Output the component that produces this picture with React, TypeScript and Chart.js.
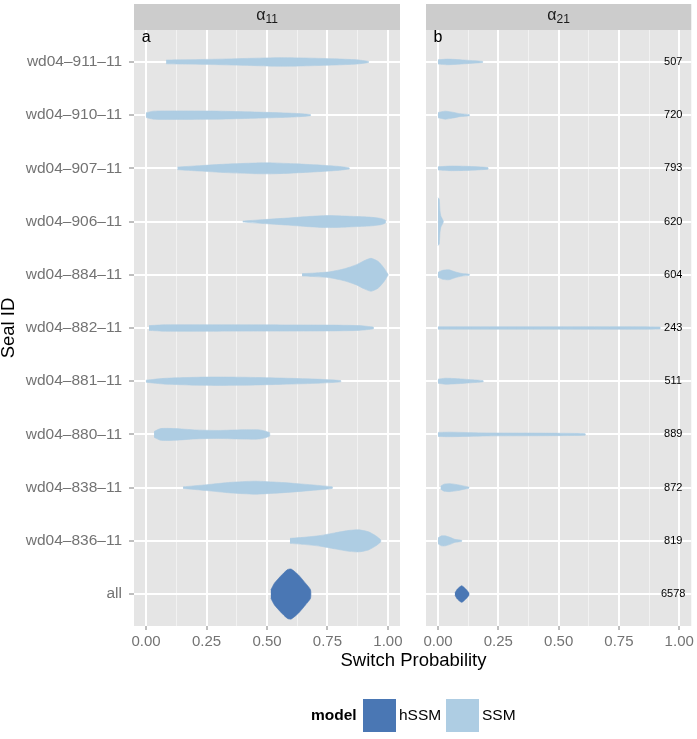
import React, { useEffect, useRef } from "react";
import { Chart, registerables } from "chart.js";

Chart.register(...registerables);
Chart.defaults.font.family = "'Liberation Sans', Arial, Helvetica, sans-serif";

// ---------- data ----------
const categories = [
  "wd04–911–11",
  "wd04–910–11",
  "wd04–907–11",
  "wd04–906–11",
  "wd04–884–11",
  "wd04–882–11",
  "wd04–881–11",
  "wd04–880–11",
  "wd04–838–11",
  "wd04–836–11",
  "all",
];
const rowModels = ["SSM", "SSM", "SSM", "SSM", "SSM", "SSM", "SSM", "SSM", "SSM", "SSM", "hSSM"];
const sampleCounts = ["507", "720", "793", "620", "604", "243", "511", "889", "872", "819", "6578"];
const xMajorTicks = [0, 0.25, 0.5, 0.75, 1];
const xMinorTicks = [0.125, 0.375, 0.625, 0.875];
const panelTitles = ["11", "21"]; // subscripts of alpha
const panelLetters = ["a", "b"];
const legendModels = ["hSSM", "SSM"];

// violin profiles: [switch probability, half width (in rows)]
const a11_911 = [[0.083, 0.036], [0.15, 0.04], [0.3, 0.052], [0.45, 0.07], [0.55, 0.08], [0.65, 0.075], [0.78, 0.058], [0.87, 0.04], [0.92, 0.01]];
const a11_910 = [[0.0, 0.045], [0.03, 0.075], [0.12, 0.08], [0.28, 0.077], [0.42, 0.062], [0.55, 0.045], [0.63, 0.03], [0.68, 0.01]];
const a11_907 = [[0.13, 0.025], [0.22, 0.05], [0.33, 0.08], [0.45, 0.1], [0.52, 0.103], [0.62, 0.085], [0.73, 0.058], [0.8, 0.035], [0.84, 0.01]];
const a11_906 = [[0.4, 0.01], [0.48, 0.035], [0.58, 0.065], [0.67, 0.095], [0.75, 0.113], [0.84, 0.1], [0.92, 0.085], [0.97, 0.06], [0.99, 0.025]];
const a11_884 = [[0.645, 0.022], [0.7, 0.034], [0.76, 0.056], [0.82, 0.113], [0.87, 0.19], [0.9, 0.26], [0.93, 0.31], [0.96, 0.25], [0.985, 0.12], [1.0, 0.01]];
const a11_882 = [[0.012, 0.045], [0.08, 0.06], [0.3, 0.06], [0.55, 0.058], [0.75, 0.055], [0.88, 0.045], [0.94, 0.015]];
const a11_881 = [[0.0, 0.02], [0.08, 0.055], [0.25, 0.078], [0.4, 0.075], [0.55, 0.06], [0.7, 0.04], [0.805, 0.012]];
const a11_880 = [[0.033, 0.055], [0.06, 0.11], [0.12, 0.11], [0.2, 0.085], [0.3, 0.075], [0.4, 0.088], [0.47, 0.085], [0.51, 0.035]];
const a11_838 = [[0.153, 0.015], [0.25, 0.055], [0.35, 0.1], [0.45, 0.122], [0.55, 0.1], [0.65, 0.066], [0.77, 0.015]];
const a11_836 = [[0.595, 0.047], [0.65, 0.066], [0.72, 0.1], [0.78, 0.15], [0.84, 0.197], [0.88, 0.207], [0.92, 0.17], [0.95, 0.094], [0.97, 0.02]];
const a11_all = [[0.516, 0.08], [0.53, 0.2], [0.555, 0.33], [0.585, 0.46], [0.6, 0.47], [0.63, 0.36], [0.66, 0.2], [0.68, 0.08]];

const a21_911 = [[0.0, 0.04], [0.04, 0.053], [0.1, 0.038], [0.185, 0.01]];
const a21_910 = [[0.0, 0.05], [0.03, 0.075], [0.06, 0.056], [0.09, 0.028], [0.13, 0.01]];
const a21_907 = [[0.0, 0.03], [0.05, 0.043], [0.12, 0.038], [0.207, 0.015]];
const a21_906 = [[0.0, 0.45], [0.005, 0.42], [0.008, 0.2], [0.012, 0.1], [0.02, 0.03], [0.022, 0.005]];
const a21_884 = [[0.0, 0.047], [0.02, 0.085], [0.045, 0.094], [0.07, 0.056], [0.1, 0.023], [0.13, 0.01]];
const a21_882 = [[0.0, 0.023], [0.5, 0.023], [0.92, 0.019]];
const a21_881 = [[0.0, 0.038], [0.03, 0.056], [0.08, 0.047], [0.14, 0.028], [0.187, 0.011]];
const a21_880 = [[0.0, 0.038], [0.05, 0.043], [0.2, 0.028], [0.4, 0.025], [0.61, 0.015]];
const a21_838 = [[0.011, 0.028], [0.025, 0.066], [0.05, 0.075], [0.08, 0.056], [0.11, 0.028], [0.128, 0.01]];
const a21_836 = [[0.0, 0.056], [0.015, 0.094], [0.03, 0.094], [0.05, 0.066], [0.07, 0.028], [0.098, 0.01]];
const a21_all = [[0.07, 0.02], [0.08, 0.094], [0.098, 0.156], [0.115, 0.094], [0.128, 0.02]];

const alpha11Violins = [a11_911, a11_910, a11_907, a11_906, a11_884, a11_882, a11_881, a11_880, a11_838, a11_836, a11_all];
const alpha21Violins = [a21_911, a21_910, a21_907, a21_906, a21_884, a21_882, a21_881, a21_880, a21_838, a21_836, a21_all];

// ---------- styles ----------
const COLORS: Record<string, string> = { hSSM: "#4a77b4", SSM: "#aecde3" };
const PANEL_BG = "#E5E5E5";
const STRIP_BG = "#CCCCCC";
const AXIS_TEXT = "#737373";
const TICK_COLOR = "#7F7F7F";
const W = 697;
const H = 739;

const isMajor = (v: number) => xMajorTicks.some((m) => Math.abs(m - v) < 1e-9);

function violinDatasets(profiles: number[][][]) {
  return profiles.map((prof, i) => {
    const row = i + 1;
    const top = prof.map(([x, w]) => ({ x, y: row - w }));
    const bottom = prof
      .slice()
      .reverse()
      .map(([x, w]) => ({ x, y: row + w }));
    const color = COLORS[rowModels[i]];
    return {
      label: rowModels[i],
      data: [...top, ...bottom],
      showLine: true,
      fill: "shape",
      backgroundColor: color,
      borderColor: color,
      borderWidth: 0.6,
      pointRadius: 0,
      pointHoverRadius: 0,
      tension: 0.2,
    };
  });
}

function xScaleConfig() {
  return {
    type: "linear",
    min: -0.05,
    max: 1.05,
    afterBuildTicks: (s: any) => {
      s.ticks = [...xMajorTicks, ...xMinorTicks].sort((a, b) => a - b).map((v) => ({ value: v }));
    },
    afterFit: (s: any) => {
      s.height = 113;
    },
    grid: {
      color: (c: any) => (c.tick && isMajor(c.tick.value) ? "#FFFFFF" : "#F2F2F2"),
      lineWidth: (c: any) => (c.tick && isMajor(c.tick.value) ? 2 : 1),
      tickColor: (c: any) => (c.tick && isMajor(c.tick.value) ? TICK_COLOR : "rgba(0,0,0,0)"),
      tickLength: 4,
      tickWidth: 1,
    },
    border: { display: false },
    ticks: {
      autoSkip: false,
      maxRotation: 0,
      minRotation: 0,
      padding: 3,
      color: AXIS_TEXT,
      font: { size: 15 },
      callback: (v: number) => (isMajor(v) ? v.toFixed(2) : ""),
    },
  };
}

function yScaleBase() {
  return {
    type: "linear",
    min: 0.4,
    max: 11.6,
    reverse: true,
    afterBuildTicks: (s: any) => {
      s.ticks = categories.map((_, i) => ({ value: i + 1 }));
    },
    border: { display: false },
  };
}

function panelPlugin(panel: number) {
  return {
    id: "panel" + panel,
    beforeDraw(chart: any) {
      const { ctx, chartArea: a } = chart;
      ctx.save();
      ctx.fillStyle = PANEL_BG;
      ctx.fillRect(a.left, a.top, a.right - a.left, a.bottom - a.top);
      ctx.fillStyle = STRIP_BG;
      ctx.fillRect(a.left, a.top - 26, a.right - a.left, 26);
      // strip title: alpha with subscript
      ctx.fillStyle = "#1a1a1a";
      ctx.font = "16px 'Liberation Sans', Arial, sans-serif";
      const wA = ctx.measureText("α").width;
      ctx.font = "12px 'Liberation Sans', Arial, sans-serif";
      const wS = ctx.measureText(panelTitles[panel]).width;
      const cx = (a.left + a.right) / 2;
      const x0 = cx - (wA + wS) / 2;
      ctx.textAlign = "left";
      ctx.textBaseline = "alphabetic";
      ctx.font = "16px 'Liberation Sans', Arial, sans-serif";
      ctx.fillText("α", x0, 19.5);
      ctx.font = "12px 'Liberation Sans', Arial, sans-serif";
      ctx.fillText(panelTitles[panel], x0 + wA, 22.5);
      ctx.restore();
    },
    afterDatasetsDraw(chart: any) {
      const { ctx } = chart;
      const xs = chart.scales.x;
      const ys = chart.scales.y;
      ctx.save();
      ctx.fillStyle = "#000000";
      ctx.textAlign = "center";
      ctx.textBaseline = "middle";
      ctx.font = "16px 'Liberation Sans', Arial, sans-serif";
      ctx.fillText(panelLetters[panel], xs.getPixelForValue(0), ys.getPixelForValue(0.55));
      if (panel === 1) {
        ctx.font = "11px 'Liberation Sans', Arial, sans-serif";
        sampleCounts.forEach((n, i) => {
          ctx.fillText(n, xs.getPixelForValue(0.975), ys.getPixelForValue(i + 1));
        });
      }
      ctx.restore();
    },
  };
}

const outerPlugin = {
  id: "outer",
  afterDraw(chart: any) {
    const { ctx } = chart;
    ctx.save();
    ctx.fillStyle = "#000000";
    ctx.textBaseline = "middle";
    ctx.textAlign = "center";
    ctx.font = "18.5px 'Liberation Sans', Arial, sans-serif";
    ctx.fillText("Switch Probability", 413.5, 661);
    // legend
    ctx.textAlign = "left";
    ctx.font = "bold 15.5px 'Liberation Sans', Arial, sans-serif";
    ctx.fillText("model", 311, 716);
    ctx.font = "15.5px 'Liberation Sans', Arial, sans-serif";
    const keyX = [363, 446];
    legendModels.forEach((m, i) => {
      ctx.fillStyle = COLORS[m];
      ctx.fillRect(keyX[i], 699, 33, 33);
      ctx.fillStyle = "#000000";
      ctx.fillText(m, keyX[i] + 36, 716);
    });
    ctx.restore();
  },
};

function makeConfig(panel: number): any {
  const profiles = panel === 0 ? alpha11Violins : alpha21Violins;
  const y: any =
    panel === 0
      ? {
          ...yScaleBase(),
          afterFit: (s: any) => {
            s.width = 134;
          },
          grid: { color: "#FFFFFF", lineWidth: 2, tickColor: TICK_COLOR, tickLength: 5, tickWidth: 1 },
          ticks: {
            autoSkip: false,
            padding: 7,
            color: AXIS_TEXT,
            font: { size: 15.5 },
            callback: (v: number) => categories[Math.round(v) - 1] ?? "",
          },
          title: {
            display: true,
            text: "Seal ID",
            color: "#000000",
            font: { size: 18.5, lineHeight: 1 },
            padding: 0,
          },
        }
      : {
          ...yScaleBase(),
          afterFit: (s: any) => {
            s.width = 0;
          },
          grid: { color: "#FFFFFF", lineWidth: 2, drawTicks: false },
          ticks: { display: false },
        };
  return {
    type: "scatter",
    data: { datasets: violinDatasets(profiles) },
    options: {
      responsive: false,
      animation: false,
      events: [],
      layout: {
        padding: panel === 0 ? { left: 0, top: 30, right: 297, bottom: 0 } : { left: 426, top: 30, right: 4, bottom: 0 },
      },
      plugins: { legend: { display: false }, tooltip: { enabled: false } },
      scales: { x: xScaleConfig(), y },
    },
    plugins: panel === 0 ? [panelPlugin(0), outerPlugin] : [panelPlugin(1)],
  };
}

export default function App() {
  const leftRef = useRef<HTMLCanvasElement>(null);
  const rightRef = useRef<HTMLCanvasElement>(null);

  useEffect(() => {
    const c1 = new Chart(leftRef.current as HTMLCanvasElement, makeConfig(0));
    const c2 = new Chart(rightRef.current as HTMLCanvasElement, makeConfig(1));
    return () => {
      c1.destroy();
      c2.destroy();
    };
  }, []);

  const canvasStyle: React.CSSProperties = { position: "absolute", left: 0, top: 0, width: W, height: H };
  return (
    <div style={{ position: "absolute", left: 0, top: 0, width: W, height: H, background: "#FFFFFF" }}>
      <canvas ref={leftRef} width={W} height={H} style={canvasStyle} />
      <canvas ref={rightRef} width={W} height={H} style={canvasStyle} />
    </div>
  );
}
